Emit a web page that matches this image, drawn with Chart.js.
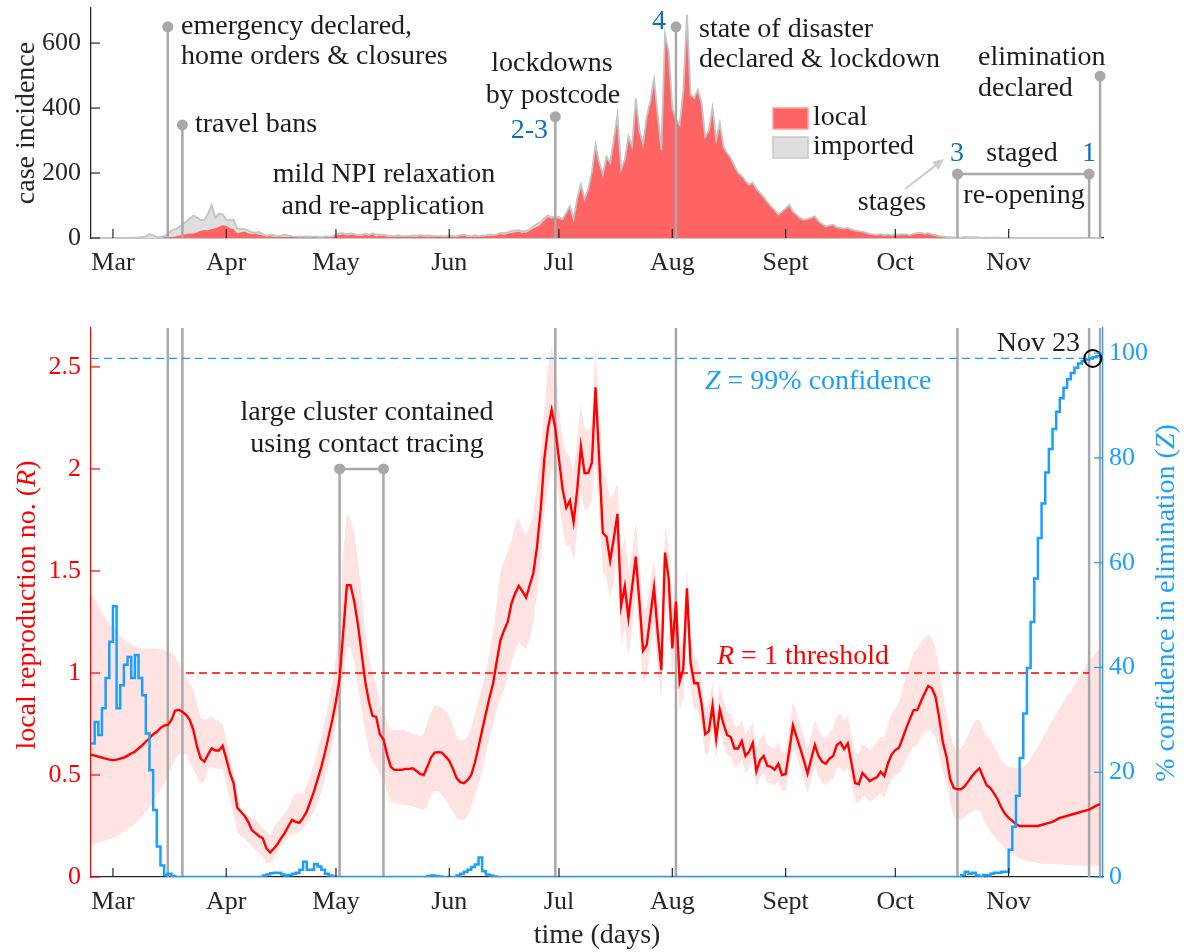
<!DOCTYPE html>
<html><head><meta charset="utf-8">
<script src="https://cdn.jsdelivr.net/npm/chart.js@4.4.1/dist/chart.umd.min.js"></script>
<style>
html,body{margin:0;padding:0;background:#fff;}
#wrap{position:relative;width:1190px;height:952px;overflow:hidden;background:#fff;}
canvas{position:absolute;left:0;}
#top{top:0;}
#bot{top:300px;}
</style></head><body>
<div id="wrap"><canvas id="top" width="1190" height="290"></canvas><canvas id="bot" width="1190" height="652"></canvas></div>
<script>
// ---------------- data ----------------
const START_DAY = -6;            // first data day (days counted from Mar 1)
const X_MIN = -6, X_MAX = 270.8;
const monthTicks  = [0, 31, 61, 92, 122, 153, 184, 214, 245];
const monthLabels = ['Mar', 'Apr', 'May', 'Jun', 'Jul', 'Aug', 'Sept', 'Oct', 'Nov'];
const caseTicks = [0, 200, 400, 600];
const rTicks = [0, 0.5, 1, 1.5, 2, 2.5];
const zTicks = [0, 20, 40, 60, 80, 100];

const localCases = [
  0,0,0,0,0,0,0,0,0,0,
  0,0,0,0,0,0,0,0,0,1,
  1,2,3,5,8,10,12,15,14,18,
  22,25,24,28,30,35,40,38,30,28,
  15,18,20,15,12,14,10,8,5,6,
  4,3,3,2,3,2,2,1,2,1,
  1,2,1,1,2,2,3,8,10,12,
  8,10,9,7,6,10,8,12,5,8,
  6,5,4,3,5,4,3,4,5,3,
  6,5,4,5,3,2,3,3,5,4,
  3,6,8,4,3,5,4,5,6,8,
  7,9,12,10,14,16,18,20,15,17,
  22,30,35,42,55,65,60,62,60,55,
  75,96,55,120,163,117,148,200,286,230,
  194,250,230,300,378,209,240,311,280,430,
  330,286,373,420,488,380,271,625,573,400,
  363,348,450,686,440,430,455,414,310,330,
  400,300,353,280,260,245,220,200,190,175,
  163,170,150,138,125,110,96,85,71,80,
  90,101,80,70,60,55,58,62,66,50,
  42,35,38,40,32,30,28,30,25,22,
  20,19,15,12,10,9,11,8,10,7,
  10,9,11,10,8,12,14,15,12,14,
  10,8,5,3,2,2,1,1,0,2,
  1,3,2,1,0,1,0,0,1,0,
  0,0,0,0,0,0,0,0,0,0,
  0,0,0,0,0,0,0,0,0,0,
  0,0,0,0,0,0,0
];
const importedCases = [
  0,0,0,0,0,0,0,0,0,0,
  0,0,1,2,3,5,12,8,3,2,
  5,10,20,22,25,30,38,45,55,45,
  33,30,50,74,32,40,33,18,25,28,
  14,10,8,8,5,3,8,5,2,4,
  5,3,3,8,4,3,2,3,2,4,
  3,2,3,2,3,2,2,3,4,3,
  3,4,3,2,3,4,2,3,5,3,
  4,3,2,3,4,2,3,2,3,4,
  3,2,4,2,3,4,3,2,3,2,
  2,3,2,3,2,3,2,3,2,3,
  3,2,4,5,3,6,5,4,6,5,
  5,6,8,7,6,5,4,5,4,3,
  3,2,3,2,2,3,2,2,1,2,
  2,1,2,2,1,2,1,2,2,1,
  1,2,1,1,2,1,1,2,1,1,
  1,1,2,1,1,1,1,1,1,1,
  1,1,1,1,1,1,1,1,1,1,
  1,1,1,1,1,1,1,1,1,1,
  1,1,1,1,1,1,1,1,1,1,
  1,1,1,1,1,1,1,1,1,1,
  1,1,1,1,1,1,1,1,1,1,
  1,1,1,1,1,1,1,1,1,1,
  1,1,1,1,1,1,1,1,1,1,
  1,0,1,0,1,0,0,1,0,0,
  0,0,0,0,0,0,0,0,0,0,
  0,0,0,0,0,0,0,0,0,0,
  0,0,0,0,0,0,0
];
const rMean = [
  0.600,0.595,0.590,0.585,0.580,0.575,0.573,0.575,0.580,0.585,
  0.595,0.605,0.614,0.630,0.645,0.663,0.680,0.700,0.712,0.730,
  0.742,0.745,0.770,0.815,0.820,0.810,0.795,0.770,0.720,0.640,
  0.580,0.565,0.600,0.630,0.620,0.620,0.643,0.580,0.510,0.460,
  0.340,0.320,0.300,0.270,0.230,0.215,0.200,0.190,0.140,0.120,
  0.140,0.160,0.190,0.215,0.250,0.280,0.270,0.265,0.290,0.320,
  0.370,0.420,0.480,0.540,0.610,0.690,0.770,0.860,0.975,1.200,
  1.430,1.430,1.350,1.240,1.100,0.960,0.860,0.790,0.785,0.700,
  0.675,0.600,0.540,0.525,0.525,0.525,0.530,0.530,0.533,0.520,
  0.505,0.500,0.540,0.585,0.610,0.612,0.610,0.590,0.570,0.530,
  0.485,0.465,0.460,0.475,0.500,0.560,0.637,0.720,0.800,0.880,
  0.950,1.060,1.160,1.210,1.250,1.340,1.390,1.427,1.400,1.370,
  1.430,1.490,1.620,1.800,2.050,2.200,2.290,2.200,2.050,1.900,
  1.810,1.845,1.740,1.900,2.110,1.980,1.980,2.030,2.400,2.050,
  1.686,1.668,1.550,1.660,1.780,1.330,1.425,1.270,1.420,1.570,
  1.350,1.110,1.137,1.280,1.420,1.200,1.014,1.590,1.465,1.120,
  1.350,0.957,1.020,1.415,1.050,0.950,0.950,0.850,0.700,0.715,
  0.840,0.677,0.820,0.750,0.696,0.686,0.630,0.630,0.667,0.593,
  0.613,0.657,0.518,0.573,0.593,0.545,0.540,0.526,0.555,0.500,
  0.505,0.620,0.743,0.686,0.630,0.570,0.507,0.580,0.647,0.593,
  0.565,0.555,0.580,0.593,0.647,0.660,0.627,0.655,0.560,0.460,
  0.455,0.510,0.490,0.470,0.480,0.490,0.516,0.495,0.558,0.600,
  0.622,0.634,0.680,0.730,0.775,0.818,0.818,0.860,0.900,0.936,
  0.925,0.884,0.780,0.660,0.590,0.480,0.436,0.430,0.430,0.445,
  0.470,0.495,0.516,0.533,0.490,0.450,0.436,0.410,0.380,0.340,
  0.310,0.290,0.275,0.260,0.250,0.250,0.250,0.250,0.250,0.250,
  0.255,0.260,0.265,0.270,0.280,0.290,0.295,0.300,0.305,0.310,
  0.315,0.320,0.325,0.330,0.340,0.350,0.357
];
const rUpper = [
  1.390,1.360,1.330,1.300,1.270,1.245,1.225,1.200,1.180,1.165,
  1.150,1.140,1.130,1.125,1.120,1.120,1.120,1.120,1.120,1.115,
  1.110,1.105,1.100,1.080,1.050,1.010,0.980,0.950,0.920,0.850,
  0.780,0.770,0.775,0.790,0.770,0.760,0.750,0.680,0.600,0.510,
  0.420,0.330,0.310,0.300,0.290,0.280,0.260,0.240,0.220,0.200,
  0.240,0.270,0.290,0.310,0.340,0.380,0.410,0.410,0.410,0.450,
  0.500,0.560,0.620,0.690,0.760,0.850,0.950,1.080,1.250,1.600,
  1.780,1.750,1.690,1.550,1.400,1.200,1.080,1.000,0.950,0.850,
  0.820,0.760,0.720,0.720,0.720,0.720,0.720,0.710,0.700,0.700,
  0.690,0.700,0.760,0.810,0.840,0.840,0.830,0.810,0.790,0.740,
  0.690,0.670,0.670,0.690,0.730,0.800,0.870,0.930,1.000,1.100,
  1.200,1.350,1.500,1.550,1.600,1.650,1.720,1.760,1.700,1.680,
  1.720,1.780,1.920,2.080,2.300,2.500,2.600,2.500,2.300,2.150,
  2.080,2.060,1.980,2.150,2.320,2.200,2.190,2.220,2.600,2.300,
  1.990,1.950,1.850,1.880,1.930,1.600,1.660,1.500,1.600,1.740,
  1.550,1.300,1.330,1.450,1.560,1.380,1.200,1.720,1.620,1.320,
  1.500,1.120,1.180,1.520,1.180,1.080,1.060,0.970,0.830,0.850,
  0.960,0.800,0.940,0.870,0.810,0.800,0.740,0.740,0.770,0.700,
  0.720,0.760,0.630,0.680,0.700,0.650,0.640,0.630,0.660,0.610,
  0.615,0.730,0.860,0.800,0.750,0.690,0.630,0.700,0.770,0.720,
  0.690,0.680,0.710,0.730,0.790,0.800,0.770,0.790,0.700,0.610,
  0.600,0.650,0.640,0.620,0.640,0.660,0.690,0.680,0.750,0.800,
  0.830,0.860,0.920,0.990,1.050,1.100,1.120,1.150,1.170,1.186,
  1.170,1.120,1.020,0.900,0.800,0.700,0.640,0.620,0.630,0.660,
  0.700,0.740,0.770,0.770,0.730,0.690,0.670,0.640,0.610,0.570,
  0.550,0.540,0.535,0.535,0.535,0.540,0.555,0.580,0.610,0.640,
  0.670,0.700,0.740,0.770,0.800,0.830,0.860,0.890,0.910,0.940,
  0.970,1.000,1.030,1.060,1.080,1.100,1.120
];
const rLower = [
  0.157,0.163,0.170,0.175,0.180,0.185,0.190,0.200,0.210,0.222,
  0.235,0.248,0.260,0.280,0.300,0.320,0.340,0.370,0.400,0.430,
  0.460,0.500,0.540,0.575,0.600,0.610,0.600,0.560,0.530,0.490,
  0.460,0.470,0.530,0.540,0.530,0.530,0.530,0.450,0.380,0.310,
  0.220,0.200,0.190,0.170,0.150,0.130,0.120,0.100,0.070,0.070,
  0.090,0.120,0.150,0.180,0.200,0.210,0.210,0.220,0.240,0.260,
  0.290,0.320,0.360,0.420,0.480,0.550,0.640,0.740,0.850,0.980,
  1.130,1.120,1.050,0.930,0.820,0.710,0.620,0.560,0.540,0.500,
  0.480,0.420,0.370,0.360,0.360,0.355,0.355,0.350,0.345,0.340,
  0.335,0.330,0.350,0.400,0.420,0.420,0.400,0.380,0.350,0.320,
  0.290,0.280,0.280,0.300,0.340,0.400,0.450,0.520,0.600,0.680,
  0.750,0.820,0.880,0.920,0.980,1.050,1.100,1.150,1.130,1.120,
  1.170,1.250,1.380,1.550,1.780,1.920,2.010,1.950,1.850,1.700,
  1.620,1.630,1.550,1.700,1.880,1.800,1.800,1.850,2.050,1.800,
  1.500,1.460,1.370,1.450,1.600,1.140,1.220,1.080,1.220,1.400,
  1.180,0.950,0.980,1.120,1.250,1.030,0.870,1.420,1.300,0.970,
  1.180,0.820,0.880,1.250,0.920,0.820,0.820,0.740,0.600,0.610,
  0.730,0.580,0.720,0.650,0.600,0.590,0.540,0.540,0.580,0.510,
  0.530,0.570,0.440,0.490,0.510,0.460,0.460,0.450,0.470,0.420,
  0.420,0.530,0.640,0.590,0.530,0.470,0.410,0.480,0.540,0.490,
  0.460,0.450,0.470,0.480,0.530,0.540,0.510,0.540,0.450,0.370,
  0.360,0.400,0.390,0.370,0.380,0.390,0.410,0.390,0.440,0.480,
  0.500,0.510,0.540,0.580,0.610,0.640,0.650,0.680,0.710,0.720,
  0.710,0.680,0.600,0.520,0.460,0.360,0.290,0.280,0.280,0.290,
  0.310,0.320,0.330,0.330,0.290,0.250,0.220,0.200,0.180,0.160,
  0.140,0.120,0.110,0.100,0.090,0.085,0.080,0.075,0.072,0.070,
  0.068,0.066,0.065,0.064,0.062,0.061,0.060,0.059,0.058,0.057,
  0.056,0.056,0.055,0.055,0.055,0.055,0.055
];
const zConf = [
  25.5,29.6,27.1,32.2,38.0,44.9,51.7,32.2,36.6,40.5,
  42.0,38.0,42.4,38.0,34.7,27.4,20.4,12.8,5.8,2.2,
  0.4,0.6,0.2,0,0,0,0,0,0,0,
  0,0,0,0,0,0,0,0,0,0,
  0,0,0,0,0,0,0,0.3,0.5,0.7,
  0.8,0.8,0.5,0.3,0.4,0.6,0.8,1.4,2.9,1.4,
  1.4,2.5,2.0,1.4,0.6,0.3,0.1,0,0,0,
  0,0,0,0,0,0,0,0,0,0,
  0,0,0,0,0,0,0,0,0,0,
  0,0,0.2,0.3,0.2,0.1,0,0,0,0,
  0.3,0.6,1.0,1.4,1.9,2.4,3.7,1.1,0.5,0.3,
  0.1,0,0,0,0,0,0,0,0,0,
  0,0,0,0,0,0,0,0,0,0,
  0,0,0,0,0,0,0,0,0,0,
  0,0,0,0,0,0,0,0,0,0,
  0,0,0,0,0,0,0,0,0,0,
  0,0,0,0,0,0,0,0,0,0,
  0,0,0,0,0,0,0,0,0,0,
  0,0,0,0,0,0,0,0,0,0,
  0,0,0,0,0,0,0,0,0,0,
  0,0,0,0,0,0,0,0,0,0,
  0,0,0,0,0,0,0,0,0,0,
  0,0,0,0,0,0,0,0,0,0,
  0,0,0,0,0,0,0,0,0.4,1.0,
  0.6,0.8,0.3,0,0.4,0.3,0.6,0.8,0.8,1.0,
  1.0,5.2,9.6,15.5,22.7,31.2,39.9,48.7,57.0,64.7,
  71.3,77.2,81.7,85.5,88.8,91.4,93.4,95.0,96.2,97.2,
  98.0,98.5,98.8,99.0,99.2,99.4,99.6
];

// events: emergency, travel bans, postcode lockdowns, stage 4, stage 3, stage 1, elimination
const eventDays    = [15, 19, 121, 154, 231, 267, 270];
const eventMarkers = [650, 348, 373, 650, 197, 197, 498];
const clusterDays  = [62, 74];
const clusterLevel = 2.0;
const rThreshold = 1;
const zThreshold = 99;
const zMarkDay = 268;

[localCases, importedCases, rMean, rUpper, rLower, zConf].forEach((a, i) => {
  if (a.length !== 277) throw new Error('array ' + i + ' length ' + a.length);
});

// ---------------- styling ----------------
const SERIF = "'Liberation Serif', 'DejaVu Serif', serif";
const AX = '#262626', TXT = '#1c1c1c', GRAY = '#a8a8a8', RED = '#ff0000';
const BLUE = '#1a9fff', DBLUE = '#0a70bd';
const ANN = 28;
const fnt = (s, it) => (it ? 'italic ' : '') + s + 'px ' + SERIF;
const toXY = arr => arr.map((v, i) => ({x: START_DAY + i, y: v}));

function rich(ctx, segs, x, y, o) {
  o = o || {};
  const size = o.size || ANN, align = o.align || 'left';
  ctx.save();
  ctx.translate(x, y);
  if (o.rotate) ctx.rotate(o.rotate);
  ctx.fillStyle = o.color || TXT;
  ctx.textBaseline = 'middle'; ctx.textAlign = 'left';
  const w = segs.map(s => { ctx.font = fnt(size, s[1]); return ctx.measureText(s[0]).width; });
  const tot = w.reduce((p, c) => p + c, 0);
  let cx = align === 'center' ? -tot / 2 : align === 'right' ? -tot : 0;
  segs.forEach((s, i) => { ctx.font = fnt(size, s[1]); ctx.fillText(s[0], cx, 0); cx += w[i]; });
  ctx.restore();
}
function inward(chart, id, side, color, len) {
  const s = chart.scales[id], a = chart.chartArea, ctx = chart.ctx;
  ctx.save(); ctx.strokeStyle = color; ctx.lineWidth = 1.2;
  s.ticks.forEach(t => {
    const p = s.getPixelForValue(t.value);
    ctx.beginPath();
    if (side === 'bottom') { ctx.moveTo(p, a.bottom); ctx.lineTo(p, a.bottom - len); }
    else if (side === 'left') { ctx.moveTo(a.left, p); ctx.lineTo(a.left + len, p); }
    else { ctx.moveTo(a.right, p); ctx.lineTo(a.right - len, p); }
    ctx.stroke();
  });
  ctx.restore();
}
function noPad(s) { s.paddingTop = 0; s.paddingBottom = 0; s.paddingLeft = 0; s.paddingRight = 0; }
function xScale(h, title) {
  return {
    type: 'linear', min: X_MIN, max: X_MAX,
    grid: {display: false},
    border: {display: true, color: AX, width: 1.3},
    afterBuildTicks: s => { s.ticks = monthTicks.map(v => ({value: v})); },
    afterFit: s => { s.height = h; noPad(s); },
    ticks: {autoSkip: false, maxRotation: 0, padding: 2, color: AX,
            font: {family: SERIF, size: 26}, callback: (v, i) => monthLabels[i]},
    title: title ? {display: true, text: title, color: AX, font: {family: SERIF, size: 28},
                    padding: {top: 0, bottom: 0}} : {display: false}
  };
}

// ---------------- top chart ----------------
const topDecor = {
  id: 'topDecor',
  afterDatasetsDraw(chart) {
    const ctx = chart.ctx, xs = chart.scales.x, ys = chart.scales.y, a = chart.chartArea;
    ctx.save();
    ctx.strokeStyle = GRAY; ctx.fillStyle = GRAY; ctx.lineWidth = 2.5;
    const pts = eventDays.map((d, i) => ({x: xs.getPixelForValue(d), y: ys.getPixelForValue(eventMarkers[i])}));
    pts.forEach(p => { ctx.beginPath(); ctx.moveTo(p.x, a.bottom); ctx.lineTo(p.x, p.y); ctx.stroke(); });
    ctx.beginPath(); ctx.moveTo(pts[4].x, pts[4].y); ctx.lineTo(pts[5].x, pts[5].y); ctx.stroke();
    pts.forEach(p => { ctx.beginPath(); ctx.arc(p.x, p.y, 5.5, 0, 2 * Math.PI); ctx.fill(); });
    // arrow from "stages" to "3"
    ctx.strokeStyle = '#cccccc'; ctx.fillStyle = '#cccccc'; ctx.lineWidth = 2;
    const ax0 = 905, ay0 = 189, ax1 = 944, ay1 = 159;
    const ang = Math.atan2(ay1 - ay0, ax1 - ax0);
    ctx.beginPath(); ctx.moveTo(ax0, ay0); ctx.lineTo(ax1 - 8 * Math.cos(ang), ay1 - 8 * Math.sin(ang)); ctx.stroke();
    ctx.beginPath(); ctx.moveTo(ax1, ay1);
    ctx.lineTo(ax1 - 11 * Math.cos(ang) + 5 * Math.sin(ang), ay1 - 11 * Math.sin(ang) - 5 * Math.cos(ang));
    ctx.lineTo(ax1 - 11 * Math.cos(ang) - 5 * Math.sin(ang), ay1 - 11 * Math.sin(ang) + 5 * Math.cos(ang));
    ctx.closePath(); ctx.fill();
    // legend
    ctx.lineWidth = 1.5;
    ctx.fillStyle = '#ff6464'; ctx.strokeStyle = '#ff9c9c';
    ctx.fillRect(773, 108, 35, 21); ctx.strokeRect(773, 108, 35, 21);
    ctx.fillStyle = '#dedede'; ctx.strokeStyle = '#c8c8c8';
    ctx.fillRect(773, 137, 35, 21); ctx.strokeRect(773, 137, 35, 21);
    ctx.restore();
    rich(ctx, [['local']], 813, 118);
    rich(ctx, [['imported']], 813, 147);
    // annotations
    rich(ctx, [['emergency declared,']], 181, 27);
    rich(ctx, [['home orders & closures']], 181, 57);
    rich(ctx, [['travel bans']], 195, 125);
    rich(ctx, [['mild NPI relaxation']], 384, 175, {align: 'center'});
    rich(ctx, [['and re-application']], 383, 207, {align: 'center'});
    rich(ctx, [['lockdowns']], 552, 64, {align: 'center'});
    rich(ctx, [['by postcode']], 553, 96, {align: 'center'});
    rich(ctx, [['2-3']], 548, 131, {align: 'right', color: DBLUE});
    rich(ctx, [['4']], 659, 22, {align: 'center', color: DBLUE});
    rich(ctx, [['state of disaster']], 699, 30);
    rich(ctx, [['declared & lockdown']], 699, 60);
    rich(ctx, [['stages']], 892, 203, {align: 'center'});
    rich(ctx, [['3']], 957, 154, {align: 'center', color: DBLUE});
    rich(ctx, [['staged']], 1022, 154, {align: 'center'});
    rich(ctx, [['re-opening']], 1024, 196, {align: 'center'});
    rich(ctx, [['1']], 1089, 154, {align: 'center', color: DBLUE});
    rich(ctx, [['elimination']], 978, 58);
    rich(ctx, [['declared']], 978, 89);
  },
  afterDraw(chart) {
    inward(chart, 'x', 'bottom', AX, 9);
    inward(chart, 'y', 'left', AX, 9);
  }
};

new Chart(document.getElementById('top'), {
  type: 'line',
  data: {datasets: [
    {label: 'local', data: toXY(localCases), fill: 'origin', backgroundColor: '#ff6464',
     borderColor: 'rgba(0,0,0,0)', borderWidth: 0, pointRadius: 0},
    {label: 'imported', data: toXY(importedCases), fill: '-1', backgroundColor: '#dedede',
     borderColor: '#c4c4c4', borderWidth: 1.8, pointRadius: 0}
  ]},
  options: {
    responsive: false, animation: false, devicePixelRatio: 1,
    layout: {padding: {left: 0, right: 87, top: 8, bottom: 0}},
    plugins: {legend: {display: false}, tooltip: {enabled: false}, filler: {drawTime: 'beforeDatasetsDraw'}},
    scales: {
      x: xScale(52, null),
      y: {
        stacked: true, min: 0, max: 708,
        grid: {display: false},
        border: {display: true, color: AX, width: 1.3},
        afterBuildTicks: s => { s.ticks = caseTicks.map(v => ({value: v})); },
        afterFit: s => { s.width = 91; noPad(s); },
        ticks: {padding: 2, color: AX, font: {family: SERIF, size: 26}, callback: v => String(v)},
        title: {display: true, text: 'case incidence', color: AX, font: {family: SERIF, size: 28},
                padding: {top: 10, bottom: 0}}
      }
    }
  },
  plugins: [topDecor]
});

// ---------------- bottom chart ----------------
const botDecor = {
  id: 'botDecor',
  afterDatasetDraw(chart, args) {
    if (args.index !== 0) return;
    const ctx = chart.ctx, xs = chart.scales.x, ys = chart.scales.y, zs = chart.scales.y2, a = chart.chartArea;
    ctx.save();
    ctx.strokeStyle = GRAY; ctx.fillStyle = GRAY; ctx.lineWidth = 2.5;
    eventDays.forEach(d => {
      const px = xs.getPixelForValue(d);
      ctx.beginPath(); ctx.moveTo(px, a.top); ctx.lineTo(px, a.bottom); ctx.stroke();
    });
    const yb = ys.getPixelForValue(clusterLevel);
    const c = clusterDays.map(d => xs.getPixelForValue(d));
    ctx.beginPath(); ctx.moveTo(c[0], a.bottom); ctx.lineTo(c[0], yb); ctx.lineTo(c[1], yb); ctx.lineTo(c[1], a.bottom); ctx.stroke();
    c.forEach(px => { ctx.beginPath(); ctx.arc(px, yb, 5.5, 0, 2 * Math.PI); ctx.fill(); });
    ctx.setLineDash([8, 5]); ctx.lineWidth = 1.3;
    ctx.strokeStyle = RED;
    const y1 = ys.getPixelForValue(rThreshold);
    ctx.beginPath(); ctx.moveTo(xs.getPixelForValue(20), y1); ctx.lineTo(xs.getPixelForValue(267), y1); ctx.stroke();
    ctx.strokeStyle = BLUE;
    const y99 = zs.getPixelForValue(zThreshold);
    ctx.beginPath(); ctx.moveTo(a.left, y99); ctx.lineTo(xs.getPixelForValue(267.5), y99); ctx.stroke();
    ctx.restore();
  },
  afterDraw(chart) {
    const ctx = chart.ctx;
    inward(chart, 'x', 'bottom', AX, 9);
    inward(chart, 'y', 'left', RED, 9);
    inward(chart, 'y2', 'right', BLUE, 9);
    rich(ctx, [['large cluster contained']], 367, 113, {align: 'center'});
    rich(ctx, [['using contact tracing']], 367, 145, {align: 'center'});
    rich(ctx, [['Z', true], [' = 99% confidence']], 705, 82, {color: BLUE});
    rich(ctx, [['R', true], [' = 1 threshold']], 717, 357, {color: RED});
    rich(ctx, [['Nov 23']], 1080, 44, {align: 'right'});
    rich(ctx, [['local reproduction no. ('], ['R', true], [')']], 28, 305, {align: 'center', rotate: -Math.PI / 2, color: RED});
    rich(ctx, [['% confidence in elimination ('], ['Z', true], [')']], 1167, 303, {align: 'center', rotate: -Math.PI / 2, color: BLUE});
  }
};

new Chart(document.getElementById('bot'), {
  type: 'line',
  data: {datasets: [
    {data: toXY(rUpper), fill: '+1', backgroundColor: 'rgba(255,0,0,0.115)', borderColor: 'rgba(0,0,0,0)',
     borderWidth: 0, pointRadius: 0, order: 10, yAxisID: 'y'},
    {data: toXY(rLower), fill: false, borderColor: 'rgba(0,0,0,0)', borderWidth: 0, pointRadius: 0, order: 10, yAxisID: 'y'},
    {data: toXY(rMean), fill: false, borderColor: RED, borderWidth: 2.4, pointRadius: 0, order: 3, yAxisID: 'y'},
    {data: toXY(zConf), fill: false, borderColor: BLUE, borderWidth: 2.5, stepped: true, pointRadius: 0, order: 2, yAxisID: 'y2'},
    {data: [{x: zMarkDay, y: zThreshold}], showLine: false, pointRadius: 8.5, pointBorderColor: '#000',
     pointBackgroundColor: 'rgba(0,0,0,0)', pointBorderWidth: 2, order: 1, yAxisID: 'y2', clip: false}
  ]},
  options: {
    responsive: false, animation: false, devicePixelRatio: 1,
    layout: {padding: {left: 0, right: 0, top: 28, bottom: 0}},
    plugins: {legend: {display: false}, tooltip: {enabled: false}},
    scales: {
      x: xScale(75, 'time (days)'),
      y: {
        position: 'left', min: 0, max: 2.691,
        grid: {display: false},
        border: {display: true, color: RED, width: 1.3},
        afterBuildTicks: s => { s.ticks = rTicks.map(v => ({value: v})); },
        afterFit: s => { s.width = 91; noPad(s); },
        ticks: {padding: 2, color: RED, font: {family: SERIF, size: 26}, callback: v => String(v)},
        title: {display: false}
      },
      y2: {
        position: 'right', min: 0, max: 104.8,
        grid: {display: false},
        border: {display: true, color: BLUE, width: 1.3},
        afterBuildTicks: s => { s.ticks = zTicks.map(v => ({value: v})); },
        afterFit: s => { s.width = 87; noPad(s); },
        ticks: {padding: -2, color: BLUE, font: {family: SERIF, size: 26}, callback: v => String(v)},
        title: {display: false}
      }
    }
  },
  plugins: [botDecor]
});
</script>
</body></html>
